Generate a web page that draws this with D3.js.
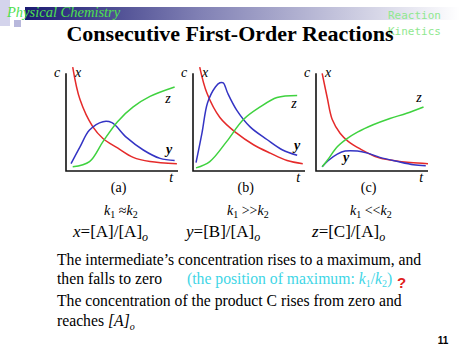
<!DOCTYPE html>
<html>
<head>
<meta charset="utf-8">
<script src="https://cdn.jsdelivr.net/npm/d3@7"></script>
<style>
  body { margin: 0; background: #fff; }
</style>
</head>
<body>
<div id="chart"></div>
<script>
// values, t in [0,10], c in [0,1]
const panelNames = ["(a)", "(b)", "(c)"]
const rateSigns = ["\u2248", ">>", "<<"]

// panel (a) k1 ~ k2
const xA = [[0.6,0.99],[1.25,0.68],[2.4,0.42],[3.3,0.31],[4.6,0.22],[6.0,0.13],[7.5,0.09],[9.9,0.07]]
const yA = [[0.45,0.07],[1.25,0.23],[2.1,0.39],[3.3,0.47],[4.1,0.46],[5.4,0.32],[6.9,0.20],[8.4,0.12],[9.7,0.10]]
const zA = [[0.6,0.04],[2.1,0.09],[3.3,0.28],[4.6,0.47],[6.0,0.61],[7.5,0.71],[9.7,0.80]]

// panel (b) k1 >> k2
const xB = [[0.6,0.99],[1.25,0.74],[2.4,0.51],[3.9,0.36],[5.4,0.25],[6.9,0.17],[8.4,0.10],[9.8,0.07]]
const yB = [[0.27,0.08],[0.8,0.36],[1.3,0.65],[2.0,0.80],[2.4,0.84],[2.7,0.84],[3.1,0.74],[3.9,0.58],[5.1,0.42],[6.6,0.30],[8.0,0.20],[9.3,0.15]]
const zB = [[0.27,0.03],[1.5,0.09],[3.0,0.28],[4.5,0.49],[6.0,0.61],[7.5,0.70],[9.3,0.72]]

// panel (c) k1 << k2
const xC = [[0.55,0.93],[1.0,0.70],[1.45,0.49],[2.15,0.36],[2.9,0.28],[3.95,0.21],[5.5,0.13],[6.9,0.10],[8.4,0.08],[10,0.07]]
const yC = [[0.55,0.04],[1.1,0.10],[1.9,0.16],[2.6,0.19],[3.7,0.19],[4.6,0.17],[5.7,0.13],[7.3,0.09],[8.7,0.06],[9.8,0.05]]
const zC = [[0.55,0.04],[1.0,0.10],[1.9,0.23],[2.8,0.31],[3.7,0.37],[5.1,0.44],[6.6,0.50],[8.1,0.55],[9.6,0.61]]

const panelData = [[xA, yA, zA], [xB, yB, zB], [xC, yC, zC]]
const curveColors = ["#e52a2a", "#3434c4", "#3fd23f"]

const SERIF = "'Liberation Serif', 'Times New Roman', 'DejaVu Serif', serif"
const W = 474, H = 355
const axisLeft = [66, 193, 316]
const PANEL_W = 112
const BASE_Y = 171, TOP_Y = 66

const svg = d3.select("#chart").append("svg")
    .attr("width", W)
    .attr("height", H)
    .attr("font-family", SERIF)

// ---- header decoration
const grad = svg.append("defs").append("linearGradient")
    .attr("id", "band")
grad.append("stop").attr("offset", "0%").attr("stop-color", "#1b1b72")
grad.append("stop").attr("offset", "40%").attr("stop-color", "#8080b4")
grad.append("stop").attr("offset", "100%").attr("stop-color", "#ffffff")

svg.append("rect").attr("x", 0).attr("y", 0).attr("width", 10).attr("height", 26).attr("fill", "#d4d4ec")
svg.append("rect").attr("x", 14).attr("y", 20).attr("width", 7).attr("height", 7).attr("fill", "#b8b8dc")
svg.append("rect").attr("x", 25).attr("y", 7).attr("width", 435).attr("height", 13).attr("fill", "url(#band)")

svg.append("text")
    .attr("x", 7).attr("y", 17)
    .attr("fill", "#4fe04f")
    .attr("font-family", SERIF)
    .style("font-style", "italic")
    .style("font-size", "14.5px")
    .text("Physical Chemistry")

svg.selectAll(".kin")
    .data(["Reaction", "Kinetics"])
    .join("text")
    .attr("x", 388)
    .attr("y", (d, i) => 19 + i * 16)
    .attr("fill", "#8fe88f")
    .attr("font-family", "'DejaVu Sans Mono', monospace")
    .style("font-size", "11px")
    .text(d => d)

svg.append("text")
    .attr("x", 230).attr("y", 41)
    .attr("text-anchor", "middle")
    .attr("font-family", SERIF)
    .style("font-weight", "bold")
    .style("font-size", "22px")
    .text("Consecutive First-Order Reactions")

// ---- the three panels
const line = d3.line().curve(d3.curveCatmullRom.alpha(0.5))

panelData.forEach((series, p) => {
    const x = d3.scaleLinear().domain([0, 10]).range([axisLeft[p], axisLeft[p] + PANEL_W])
    const y = d3.scaleLinear().domain([0, 1]).range([BASE_Y, TOP_Y])
    const g = svg.append("g").attr("font-family", SERIF)

    series.forEach((pts, i) => {
        g.append("path")
            .attr("d", line(pts.map(d => [x(d[0]), y(d[1])])))
            .attr("fill", "none")
            .attr("stroke", curveColors[i])
            .attr("stroke-width", 1.5)
    })

    // axes
    g.append("path")
        .attr("d", `M${x(0)},${y(0.93)}V${y(0)}H${x(10)}`)
        .attr("fill", "none")
        .attr("stroke", "#111")
        .attr("stroke-width", 1.6)

    const lab = (tx, ty, s) => g.append("text")
        .attr("x", tx).attr("y", ty)
        .attr("text-anchor", "middle")
        .attr("font-family", SERIF)
        .style("font-style", "italic")
        .style("font-size", "14px")
        .text(s)

    lab(x(0) - 9, y(0.9), "c")
    lab(x(0) + 12, y(0.9), "x")
    lab(x(9.4), y(-0.1), "t")

    g.append("text")
        .attr("x", x(4.7)).attr("y", 192)
        .attr("text-anchor", "middle")
        .attr("font-family", SERIF)
        .style("font-size", "14px")
        .text(panelNames[p])

    const kt = g.append("text")
        .attr("x", x(4.9)).attr("y", 215)
        .attr("text-anchor", "middle")
        .attr("font-family", SERIF)
        .style("font-size", "14px")
    kt.append("tspan").style("font-style", "italic").text("k")
    kt.append("tspan").attr("dy", 3).style("font-size", "10px").text("1")
    kt.append("tspan").attr("dy", -3).text(" " + rateSigns[p])
    kt.append("tspan").style("font-style", "italic").text("k")
    kt.append("tspan").attr("dy", 3).style("font-size", "10px").text("2")
})

// curve labels z and y
const zPos = [[168, 103], [294, 108], [419, 102]]
const yPos = [[169, 154], [297, 150], [346, 162]]
zPos.forEach(d => svg.append("text").attr("x", d[0]).attr("y", d[1]).attr("text-anchor", "middle")
    .attr("font-family", SERIF).style("font-style", "italic").style("font-size", "14px").text("z"))
yPos.forEach(d => svg.append("text").attr("x", d[0]).attr("y", d[1]).attr("text-anchor", "middle")
    .attr("font-family", SERIF).style("font-style", "italic").style("font-weight", "bold").style("font-size", "14px").text("y"))

// ---- definitions row
const defs = [["x", "[A]"], ["y", "[B]"], ["z", "[C]"]]
const defX = [73, 186, 312]
defs.forEach((d, i) => {
    const t = svg.append("text")
        .attr("x", defX[i]).attr("y", 237)
        .attr("font-family", SERIF)
        .style("font-size", "17px")
    t.append("tspan").style("font-style", "italic").text(d[0])
    t.append("tspan").text("=" + d[1] + "/[A]")
    t.append("tspan").attr("dy", 4).style("font-style", "italic").style("font-size", "12px").text("o")
})

// ---- explanation text
const para = svg.append("g").attr("font-family", SERIF).style("font-size", "15.7px")
para.append("text").attr("x", 57).attr("y", 265)
    .text("The intermediate\u2019s concentration rises to a maximum, and")
para.append("text").attr("x", 57).attr("y", 284).text("then falls to zero")

const cy = para.append("text").attr("x", 187).attr("y", 284).attr("fill", "#3fd6e6")
cy.append("tspan").text("(the position of maximum: ")
cy.append("tspan").style("font-style", "italic").text("k")
cy.append("tspan").attr("dy", 3).style("font-size", "10px").text("1")
cy.append("tspan").attr("dy", -3).text("/")
cy.append("tspan").style("font-style", "italic").text("k")
cy.append("tspan").attr("dy", 3).style("font-size", "10px").text("2")
cy.append("tspan").attr("dy", -3).text(")")

svg.append("text").attr("x", 397).attr("y", 288)
    .attr("fill", "#e02020")
    .attr("font-family", "'Liberation Sans', sans-serif")
    .style("font-weight", "bold")
    .style("font-size", "15px")
    .text("?")

para.append("text").attr("x", 57).attr("y", 306)
    .text("The concentration of the product C rises from zero and")
const last = para.append("text").attr("x", 57).attr("y", 326)
last.append("tspan").text("reaches ")
last.append("tspan").style("font-style", "italic").text("[A]")
last.append("tspan").attr("dy", 4).style("font-style", "italic").style("font-size", "10px").text("o")

svg.append("text").attr("x", 443).attr("y", 344)
    .attr("text-anchor", "middle")
    .attr("font-family", "'Liberation Sans', sans-serif")
    .style("font-weight", "bold")
    .style("font-size", "10px")
    .text("11")
</script>
</body>
</html>
